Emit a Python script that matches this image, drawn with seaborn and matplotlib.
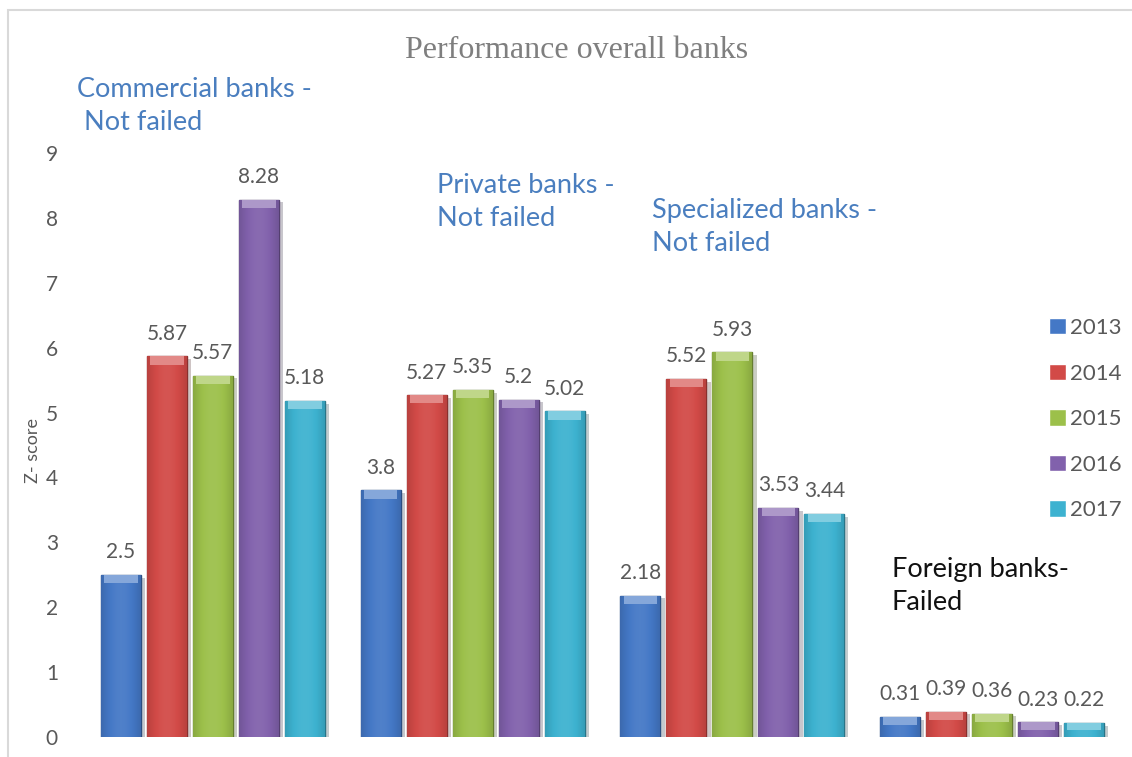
import numpy as np
import pandas as pd
import seaborn as sns
import matplotlib.pyplot as plt
from matplotlib.patches import Rectangle
from matplotlib.colors import to_rgb
import matplotlib.patheffects as pe

# Bank groups, years and Z-scores
groups = ["Commercial banks", "Private banks", "Specialized banks", "Foreign banks"]
years = ["2013", "2014", "2015", "2016", "2017"]
commercial = [2.5, 5.87, 5.57, 8.28, 5.18]
private = [3.8, 5.27, 5.35, 5.2, 5.02]
specialized = [2.18, 5.52, 5.93, 3.53, 3.44]
foreign = [0.31, 0.39, 0.36, 0.23, 0.22]
group_notes = ["Commercial banks -\n Not failed", "Private banks -\nNot failed",
               "Specialized banks -\nNot failed", "Foreign banks-\nFailed"]
yticks = list(range(10))

year_colors = ["#4478C6", "#D24A47", "#9CC04A", "#8161AC", "#3DB2D0"]

rows = []
for g, vals in zip(groups, [commercial, private, specialized, foreign]):
    for y, v in zip(years, vals):
        rows.append({"group": g, "year": y, "z": v})
df = pd.DataFrame(rows)

sns.set_theme(style="white")
plt.rcParams["font.family"] = ["Lato", "DejaVu Sans"]

W, H = 1132, 757
fig = plt.figure(figsize=(W / 100, H / 100), dpi=100)
ax = fig.add_axes([83 / W, (H - 737) / H, (1122 - 83) / W, (737 - 153) / H])

sns.barplot(data=df, x="group", y="z", hue="year", palette=year_colors,
            width=0.885, gap=0.13, ax=ax, legend=True, saturation=1)

ax.set_ylim(0, 9)
ax.set_xlim(-0.5, 3.5)
ax.set_yticks(yticks)
ax.set_yticklabels([str(t) for t in yticks])
ax.tick_params(axis="y", length=0, pad=18, labelsize=15, labelcolor="#595959")
ax.set_xticks([])
ax.set_xlabel("")
ax.set_ylabel("Z- score", fontsize=13, color="#595959")
ax.yaxis.set_label_coords(-0.040, 0.49)
for s in ax.spines.values():
    s.set_visible(False)


def shade(rgb, f):
    rgb = np.array(rgb)
    if f >= 0:
        return rgb + (1 - rgb) * f
    return rgb * (1 + f)


# Bevelled look: horizontal shading across each bar plus a lighter top edge
bars = [p for c in ax.containers for p in c]
for p in bars:
    base = to_rgb(p.get_facecolor())
    x0, y0 = p.get_x(), p.get_y()
    w, h = p.get_width(), p.get_height()
    t = np.linspace(0, 1, 64)
    prof = 0.18 * np.sin(np.pi * t) - 0.12
    img = np.array([[shade(base, f) for f in prof]])
    im = ax.imshow(img, extent=(x0, x0 + w, y0, y0 + h), aspect="auto",
                   zorder=p.get_zorder() + 0.1, interpolation="bilinear")
    im.set_clip_path(p)
    cap = min(0.13, h * 0.5)
    ax.add_patch(Rectangle((x0 + w * 0.08, y0 + h - cap), w * 0.84, cap,
                           facecolor=shade(base, 0.35), edgecolor="none",
                           zorder=p.get_zorder() + 0.2))
    p.set_edgecolor(shade(base, -0.35))
    p.set_linewidth(1.0)
    p.set_path_effects([pe.SimplePatchShadow(offset=(3, -2), alpha=0.25), pe.Normal()])

for c in ax.containers:
    ax.bar_label(c, labels=[f"{v:g}" for v in c.datavalues], padding=9,
                 fontsize=15, color="#595959")

ax.set_xlim(-0.5, 3.5)
ax.set_ylim(0, 9)

# Legend on the right
handles, labels = ax.get_legend_handles_labels()
ax.legend(handles, labels, loc="upper left", bbox_to_anchor=(1049 / W, (H - 318) / H),
          bbox_transform=fig.transFigure, frameon=False, fontsize=16,
          labelcolor="#595959", handlelength=0.75, handleheight=0.75,
          handletextpad=0.2, labelspacing=1.15, borderpad=0, borderaxespad=0)

# Title and group notes
fig.text(577 / W, (H - 50) / H, "Performance overall banks", ha="center", va="center",
         fontsize=23, color="#7F7F7F", family=["Liberation Serif", "DejaVu Serif"])
note_pos = [(77, 77), (437, 173), (652, 198), (892, 557)]
note_col = ["#4A7EBF", "#4A7EBF", "#4A7EBF", "#111111"]
for (px, py), txt, col in zip(note_pos, group_notes, note_col):
    fig.text(px / W, (H - py) / H, txt, ha="left", va="top", fontsize=19.5,
             color=col, linespacing=1.4)

# Light frame around the chart area
fig.patches.append(Rectangle((8 / W, -0.1), 1.2, (H - 10) / H + 0.1,
                             transform=fig.transFigure, fill=False,
                             edgecolor="#D9D9D9", linewidth=1.5))

fig.savefig("out.png", dpi=100, facecolor="white")
